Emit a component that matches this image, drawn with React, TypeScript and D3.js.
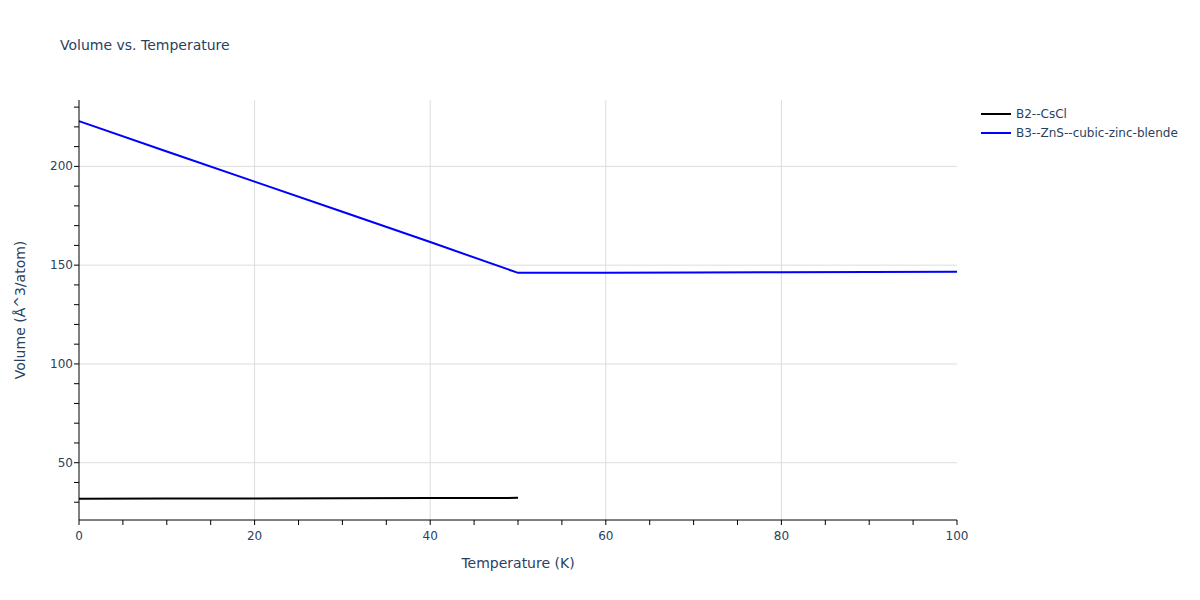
import React from "react";
import * as d3 from "d3";

const b2Temps = [0, 10, 20, 30, 40, 50];
const b2Volumes = [31.8, 31.9, 31.9, 32.0, 32.1, 32.2];
const b3Temps = [0, 10, 20, 30, 40, 50, 60, 70, 80, 90, 100];
const b3Volumes = [222.9, 207.5, 192.3, 177.0, 161.7, 146.1, 146.2, 146.3, 146.4, 146.5, 146.6];
const seriesNames = ["B2--CsCl", "B3--ZnS--cubic-zinc-blende"];
const seriesColors = ["#000000", "#0000ff"];
const xTicks = [0, 20, 40, 60, 80, 100];
const yTicks = [50, 100, 150, 200];

const W = 1200, H = 600;
const L = 79, R = 957, T = 100, B = 520;
const font = "'DejaVu Sans', Verdana, sans-serif";
const textColor = "#2a3f5f";

export default function App() {
  const x = d3.scaleLinear().domain([0, 100]).range([L, R]);
  const y = d3.scaleLinear().domain([21.0, 233.6]).range([B, T]);
  const line = d3.line<[number, number]>().x(d => x(d[0])).y(d => y(d[1]));
  const series = [
    b2Temps.map((t, i) => [t, b2Volumes[i]] as [number, number]),
    b3Temps.map((t, i) => [t, b3Volumes[i]] as [number, number]),
  ];
  const xMinor = d3.range(0, 101, 5);
  const yMinor = d3.range(30, 231, 10);
  return (
    <div style={{ position: "absolute", left: 0, top: 0 }}>
      <svg width={W} height={H} style={{ display: "block", background: "#fff" }}>
        {xTicks.filter(v => v > 0 && v < 100).map(v => (
          <line key={"gx" + v} x1={x(v)} x2={x(v)} y1={T} y2={B} stroke="#dcdcdc" strokeWidth={1} />
        ))}
        {yTicks.map(v => (
          <line key={"gy" + v} x1={L} x2={R} y1={y(v)} y2={y(v)} stroke="#dcdcdc" strokeWidth={1} />
        ))}
        {series.map((s, i) => (
          <path key={"s" + i} d={line(s) || ""} fill="none" stroke={seriesColors[i]} strokeWidth={2} />
        ))}
        <line x1={L} x2={L} y1={T} y2={B} stroke="#000" strokeWidth={1} />
        <line x1={L} x2={R} y1={B} y2={B} stroke="#000" strokeWidth={1} />
        {xMinor.map(v => (
          <line key={"xt" + v} x1={x(v)} x2={x(v)} y1={B} y2={B + 5} stroke="#000" strokeWidth={1} />
        ))}
        {yMinor.map(v => (
          <line key={"yt" + v} x1={L - 5} x2={L} y1={y(v)} y2={y(v)} stroke="#000" strokeWidth={1} />
        ))}
        {xTicks.map(v => (
          <text key={"xl" + v} x={x(v)} y={B + 20} textAnchor="middle" fontFamily={font} fontSize={12} fill={textColor}>{v}</text>
        ))}
        {yTicks.map(v => (
          <text key={"yl" + v} x={L - 6} y={y(v) + 4} textAnchor="end" fontFamily={font} fontSize={12} fill={textColor}>{v}</text>
        ))}
        <text x={(L + R) / 2} y={568} textAnchor="middle" fontFamily={font} fontSize={14} fill={textColor}>Temperature (K)</text>
        <text transform={`translate(25, ${(T + B) / 2}) rotate(-90)`} textAnchor="middle" fontFamily={font} fontSize={14} fill={textColor}>Volume (Å^3/atom)</text>
        <text x={60} y={50} fontFamily={font} fontSize={14} fill={textColor}>Volume vs. Temperature</text>
        {seriesNames.map((n, i) => (
          <g key={"lg" + i} transform={`translate(981, ${114 + i * 19})`}>
            <line x1={0} x2={30} y1={0} y2={0} stroke={seriesColors[i]} strokeWidth={2} />
            <text x={35} y={4} fontFamily={font} fontSize={12} fill={textColor}>{n}</text>
          </g>
        ))}
      </svg>
    </div>
  );
}
